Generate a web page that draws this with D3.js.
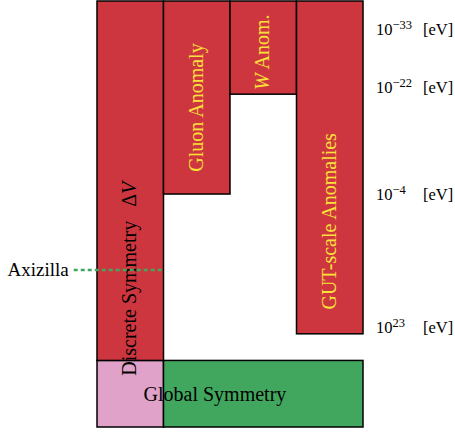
<!DOCTYPE html>
<html>
<head>
<meta charset="utf-8">
<script src="https://cdn.jsdelivr.net/npm/d3@7"></script>
<style>
  body { margin: 0; background: #fff; }
</style>
</head>
<body>
<svg id="chart" width="455" height="432" font-family="Liberation Serif"></svg>
<script>
'use strict'

// columns are one unit wide, heights in the same units counted from the bottom
const barNames = ['Discrete Symmetry', 'Gluon Anomaly', 'W Anom.', 'GUT-scale Anomalies']
const barCol = [0, 1, 2, 3]
const barLow = [1, 3.5, 5, 1.4]
const barTop = 6.4
const labelAt = [0.77, 4.8, 5.63, 3.09]

const baseNames = ['Discrete', 'Global Symmetry']
const baseFrom = [0, 1]
const baseTo = [1, 4]

const tickExp = ['−33', '−22', '−4', '23']
const tickAt = [5.97, 5.1, 3.5, 1.5]

const axizillaAt = 2.36
const axizillaFrom = -0.35

const red = '#ce363f'
const yellow = '#f9e13a'

const svg = d3.select('#chart')
const x = d3.scaleLinear().domain([0, 4]).range([97, 363])
const y = d3.scaleLinear().domain([0, barTop]).range([427, 1])
const w = x(1) - x(0)

// bottom row
svg.selectAll('.base')
  .data(baseNames)
  .enter()
  .append('rect')
  .attr('class', 'base')
  .attr('x', function (d, i) { return x(baseFrom[i]) })
  .attr('y', y(1))
  .attr('width', function (d, i) { return x(baseTo[i]) - x(baseFrom[i]) })
  .attr('height', y(0) - y(1))
  .attr('fill', function (d, i) { return i === 0 ? '#e0a2c8' : '#42a75e' })
  .attr('stroke', '#000')
  .attr('stroke-width', 1.5)

// red bars
svg.selectAll('.bar')
  .data(barNames)
  .enter()
  .append('rect')
  .attr('class', 'bar')
  .attr('x', function (d, i) { return x(barCol[i]) })
  .attr('y', y(barTop))
  .attr('width', w)
  .attr('height', function (d, i) { return y(barLow[i]) - y(barTop) })
  .attr('fill', red)
  .attr('stroke', '#000')
  .attr('stroke-width', 1.5)

// vertical labels
const labels = svg.selectAll('.lab')
  .data(barNames)
  .enter()
  .append('g')
  .attr('class', 'lab')
  .attr('transform', function (d, i) {
    return `translate(${x(barCol[i] + 0.5)},${y(labelAt[i])}) rotate(-90)`
  })
  .append('text')
  .attr('y', 6)
  .attr('font-size', 20)
  .attr('text-anchor', function (d, i) { return i === 0 ? 'start' : 'middle' })
  .attr('fill', function (d, i) { return i === 0 ? '#000' : yellow })

labels.each(function (d, i) {
  const t = d3.select(this)
  if (i === 0) {
    t.append('tspan').text(d)
    t.append('tspan').attr('dx', 14).text('Δ')
    t.append('tspan').attr('font-style', 'italic').text('V')
  } else if (i === 2) {
    t.append('tspan').attr('font-style', 'italic').text('W')
    t.append('tspan').text(' Anom.')
  } else {
    t.text(d)
  }
})

svg.append('text')
  .attr('x', x(0.7))
  .attr('y', y(0.5) + 7)
  .attr('font-size', 20)
  .text(baseNames[1])

// energy scale labels
const ticks = svg.selectAll('.tick')
  .data(tickExp)
  .enter()
  .append('g')
  .attr('class', 'tick')
  .attr('transform', function (d, i) { return `translate(0,${y(tickAt[i])})` })

const tt = ticks.append('text')
  .attr('x', x(4) + 13)
  .attr('y', 5.5)
  .attr('font-size', 16.5)
tt.append('tspan').text('10')
tt.append('tspan').attr('dy', -6).attr('font-size', 12.5).text(function (d) { return d })

ticks.append('text')
  .attr('x', x(4) + 60)
  .attr('y', 5.5)
  .attr('font-size', 16.5)
  .text('[eV]')

// Axizilla marker
svg.append('line')
  .attr('x1', x(axizillaFrom))
  .attr('x2', x(1))
  .attr('y1', y(axizillaAt))
  .attr('y2', y(axizillaAt))
  .attr('stroke', '#42a75e')
  .attr('stroke-width', 2.5)
  .attr('stroke-dasharray', '4,3')

svg.append('text')
  .attr('x', x(axizillaFrom) - 5)
  .attr('y', y(axizillaAt) + 6)
  .attr('text-anchor', 'end')
  .attr('font-size', 19)
  .text('Axizilla')
</script>
</body>
</html>
